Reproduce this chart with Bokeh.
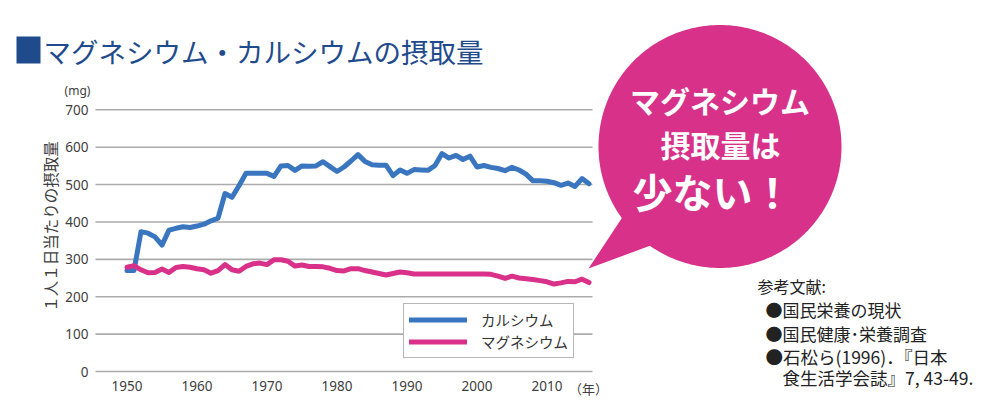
import numpy as np
from bokeh.plotting import figure
from bokeh.models import Range1d, FixedTicker, Legend, LegendItem, Label, PolyAnnotation
from bokeh.embed import file_html
from bokeh.resources import INLINE

# ---------------- data ----------------
years = list(range(1950, 2017))
calcium = [270, 270, 374, 370, 360, 338, 378, 383, 387, 385,
           389, 394, 403, 410, 476, 466, 497, 530, 530, 530,
           530, 522, 550, 551, 538, 550, 549, 550, 561, 548,
           535, 547, 563, 580, 562, 553, 552, 552, 524, 539,
           530, 540, 539, 538, 551, 583, 571, 578, 567, 576,
           547, 551, 546, 543, 537, 546, 539, 528, 510, 510,
           509, 505, 498, 504, 495, 516, 502]
magnesium = [279, 283, 272, 264, 265, 274, 265, 278, 281, 279,
             275, 272, 263, 270, 286, 272, 268, 281, 288, 290,
             286, 299, 299, 295, 282, 285, 281, 281, 280, 276,
             270, 269, 275, 275, 270, 266, 262, 258, 262, 266,
             264, 261, 261, 261, 261, 261, 261, 261, 261, 261,
             261, 261, 260, 255, 249, 255, 250, 248, 246, 243,
             240, 234, 237, 241, 240, 247, 238]
x_ticks = [1950, 1960, 1970, 1980, 1990, 2000, 2010]
y_ticks = [0, 100, 200, 300, 400, 500, 600, 700]
x_band = (1945.5, 2016.5)          # category band of the year axis
series_names = ["カルシウム", "マグネシウム"]
title_text = "マグネシウム・カルシウムの摂取量"
y_title = "１人１日当たりの摂取量"
unit_text = "(mg)"
year_unit = "（年）"
bubble_lines = ["マグネシウム", "摂取量は", "少ない！"]
ref_lines = ["参考文献:", "●国民栄養の現状", "●国民健康･栄養調査",
             "●石松ら(1996)．『日本", "食生活学会誌』7, 43-49."]

# ---------------- styles ----------------
JP = "Noto Sans CJK JP"
BLUE = "#3a76c0"
PINK = "#d9318a"
BUBBLE = "#d8318a"
NAVY = "#1f4b8d"
GREY_TXT = "#404040"
W, H = 992, 400

# plot-area placement in pixels (canvas coords, top-left origin)
PX_L, PX_R = 95.0, 592.0
PY_0, PY_700 = 371.0, 109.3
kx = (PX_R - PX_L) / (x_band[1] - x_band[0])
ky = (PY_0 - PY_700) / 700.0
x_range = Range1d(x_band[0] - PX_L / kx, x_band[0] + (W - PX_L) / kx)
y_range = Range1d(-(H - PY_0) / ky, (PY_0) / ky)

p = figure(width=W, height=H, x_range=x_range, y_range=y_range,
           output_backend="svg", toolbar_location=None, title=None,
           min_border=0, min_border_left=0, min_border_right=0,
           min_border_top=0, min_border_bottom=0)
p.outline_line_color = None
p.background_fill_color = "white"
p.border_fill_color = "white"
p.xgrid.visible = False
p.ygrid.visible = False

# horizontal grid lines at the y ticks, spanning the year band
p.segment(x0=[x_band[0]] * len(y_ticks), x1=[x_band[1]] * len(y_ticks),
          y0=y_ticks, y1=y_ticks, line_color="#ababab", line_width=1.6)

for ax in (p.xaxis[0], p.yaxis[0]):
    ax.axis_line_color = None
    ax.major_tick_line_color = None
    ax.minor_tick_line_color = None
    ax.major_tick_out = 0
    ax.major_tick_in = 0
    ax.major_label_text_color = GREY_TXT
    ax.major_label_text_font = "Noto Sans"
    ax.major_label_text_font_size = "13.5px"

p.xaxis.ticker = FixedTicker(ticks=x_ticks)
p.yaxis.ticker = FixedTicker(ticks=y_ticks)
p.xaxis.fixed_location = 0
p.yaxis.fixed_location = x_band[0]
p.xaxis.major_label_standoff = 9
p.yaxis.major_label_standoff = 7

r_ca = p.line(years, calcium, line_color=BLUE, line_width=5,
              line_join="round", line_cap="round")
r_mg = p.line(years, magnesium, line_color=PINK, line_width=5,
              line_join="round", line_cap="round")

legend = Legend(items=[LegendItem(label=series_names[0], renderers=[r_ca]),
                       LegendItem(label=series_names[1], renderers=[r_mg])],
                location=(403, H - 358), orientation="vertical", margin=0,
                padding=5, spacing=1, glyph_width=58, glyph_height=17,
                label_height=17, label_standoff=14,
                label_text_font=JP, label_text_font_size="14.5px",
                label_text_color="#333333",
                border_line_color="#6d6d6d", border_line_width=1,
                background_fill_color="white", background_fill_alpha=1)
p.add_layout(legend)


def canvas_label(text, x, y, size, color, align="left", baseline="middle",
                 bold=False, angle=0.0, font=JP):
    p.add_layout(Label(x=x, y=y, x_units="canvas", y_units="canvas", text=text,
                       text_font=font, text_font_size=size, text_color=color,
                       text_align=align, text_baseline=baseline,
                       text_font_style="bold" if bold else "normal",
                       angle=angle))


def canvas_poly(xs, ys, color):
    p.add_layout(PolyAnnotation(xs=list(xs), ys=list(ys),
                                xs_units="canvas", ys_units="canvas",
                                fill_color=color, fill_alpha=1, line_color=None))


# title with square
canvas_poly([16, 40, 40, 16], [36, 36, 63, 63], NAVY)
canvas_label(title_text, 43, 50, "27.5px", NAVY)

# unit labels and y title
canvas_label(unit_text, 77, 90, "12px", GREY_TXT, align="center", font="Noto Sans")
canvas_label(year_unit, 588, 388, "13px", GREY_TXT, align="center")
canvas_label(y_title, 49, 226, "15.5px", GREY_TXT, align="center", angle=np.pi / 2)

# speech bubble
cx, cy, r = 719.5, 146.0, 121.5
t = np.linspace(0, 2 * np.pi, 240, endpoint=False)
canvas_poly(cx + r * np.cos(t), cy + r * np.sin(t), BUBBLE)
canvas_poly([588, 629, 661], [268, 206, 241], BUBBLE)
canvas_label(bubble_lines[0], 719.5, 99, "30px", "white", align="center", bold=True)
canvas_label(bubble_lines[1], 720, 143, "30px", "white", align="center", bold=True)
canvas_label(bubble_lines[2], 712, 190, "40px", "white", align="center", bold=True)

# references
canvas_label(ref_lines[0], 757, 285, "16px", "#222222")
canvas_label(ref_lines[1], 765, 309, "17px", "#222222")
canvas_label(ref_lines[2], 765, 333, "17px", "#222222")
canvas_label(ref_lines[3], 765, 356, "17.5px", "#222222")
canvas_label(ref_lines[4], 782, 377, "17.5px", "#222222")

open("out.html", "w").write(file_html(p, INLINE))
